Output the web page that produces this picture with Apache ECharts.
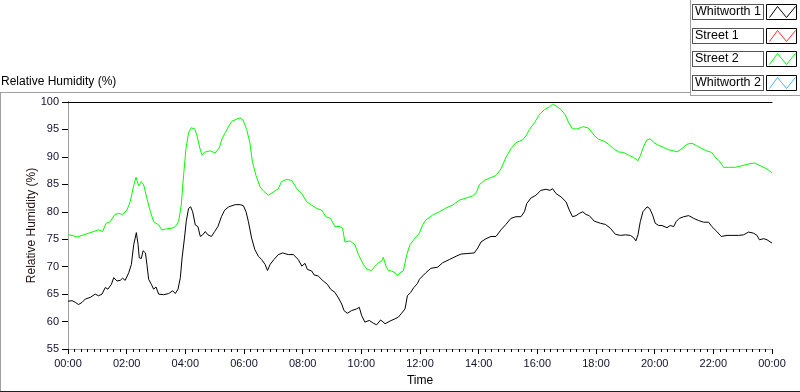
<!DOCTYPE html>
<html>
<head>
<meta charset="utf-8">
<script src="https://cdn.jsdelivr.net/npm/echarts@6/dist/echarts.min.js"></script>
<style>
  html, body { margin: 0; padding: 0; background: #fff; }
  #chart { width: 800px; height: 392px; }
</style>
</head>
<body>
<div id="chart"></div>
<script>
// series names as shown in the legend
var seriesNames = ['Whitworth 1', 'Street 1', 'Street 2', 'Whitworth 2'];
var seriesColors = ['#000000', '#ff3030', '#00ff00', '#40b8ff'];

// y axis range
var yMin = 55, yMax = 100, yStep = 5;
// x axis in hours of the day
var xMin = 0, xMax = 24, xStep = 2;

// [hour, RH %]
var whitworth1 = [
  [0.00,63.7],[0.14,63.8],[0.25,63.5],[0.36,63.1],[0.48,63.5],[0.59,64.1],[0.76,64.4],[0.93,65.0],[1.04,64.7],[1.16,65.0],
  [1.27,66.2],[1.36,65.9],[1.48,66.8],[1.56,68.0],[1.67,67.4],[1.78,67.5],[1.86,67.9],[1.95,67.5],[2.07,68.9],[2.16,70.4],
  [2.24,74.0],[2.33,76.2],[2.39,74.0],[2.43,71.6],[2.50,71.5],[2.56,72.9],[2.64,72.5],[2.69,70.4],[2.75,67.7],[2.84,66.8],
  [2.92,65.9],[3.00,66.3],[3.09,65.0],[3.26,64.9],[3.43,65.1],[3.57,65.6],[3.66,65.1],[3.75,65.9],[3.83,68.0],[3.89,71.6],
  [3.97,75.2],[4.03,78.2],[4.11,80.6],[4.18,80.9],[4.25,80.0],[4.34,77.6],[4.43,77.3],[4.51,75.5],[4.59,75.8],[4.68,76.4],
  [4.77,75.8],[4.89,75.5],[5.00,76.4],[5.11,77.3],[5.23,79.1],[5.34,80.3],[5.48,80.9],[5.59,81.1],[5.70,81.3],[5.87,81.3],
  [5.98,81.1],[6.07,80.0],[6.15,78.2],[6.26,75.2],[6.37,73.1],[6.49,71.9],[6.60,71.3],[6.72,70.4],[6.80,69.3],[6.89,70.4],
  [7.02,71.3],[7.17,72.2],[7.32,72.5],[7.51,72.2],[7.68,72.2],[7.85,71.3],[7.97,70.1],[8.08,70.6],[8.16,69.5],[8.31,69.2],
  [8.39,68.5],[8.53,68.3],[8.70,67.4],[8.84,66.8],[8.95,65.9],[9.10,65.3],[9.22,64.3],[9.33,63.2],[9.41,62.0],[9.52,61.5],
  [9.67,62.0],[9.84,62.3],[9.93,62.6],[10.01,61.1],[10.12,59.9],[10.27,60.2],[10.41,59.7],[10.52,59.4],[10.66,60.3],[10.81,59.6],
  [10.98,60.1],[11.15,60.5],[11.26,60.8],[11.37,61.5],[11.49,62.3],[11.57,64.7],[11.68,65.3],[11.79,66.2],[11.91,66.9],[11.98,67.7],
  [12.09,68.3],[12.20,68.9],[12.37,69.7],[12.60,69.9],[12.77,70.7],[13.00,71.3],[13.23,71.9],[13.40,72.3],[13.63,72.4],[13.85,72.5],
  [13.97,73.4],[14.08,74.5],[14.25,75.1],[14.42,75.5],[14.59,75.5],[14.76,76.7],[14.93,77.7],[15.10,78.8],[15.27,79.1],[15.44,79.1],
  [15.56,80.0],[15.64,81.5],[15.78,82.5],[15.95,83.0],[16.12,83.9],[16.30,84.1],[16.43,83.9],[16.52,84.2],[16.64,83.3],[16.81,82.7],
  [16.98,81.8],[17.09,80.3],[17.20,79.1],[17.32,79.3],[17.43,79.7],[17.55,80.0],[17.66,79.5],[17.77,79.3],[17.94,78.3],[18.15,77.9],
  [18.32,77.7],[18.49,77.0],[18.66,75.9],[18.83,75.7],[19.00,75.8],[19.17,75.7],[19.28,75.3],[19.36,74.7],[19.43,75.8],[19.51,78.2],
  [19.60,80.0],[19.74,80.9],[19.83,80.6],[19.93,79.4],[20.02,77.9],[20.14,77.5],[20.25,77.5],[20.42,77.1],[20.53,77.5],[20.65,77.3],
  [20.73,78.2],[20.84,78.8],[20.99,79.1],[21.16,79.3],[21.33,78.8],[21.50,78.4],[21.67,78.1],[21.84,78.1],[21.95,77.3],[22.12,76.4],
  [22.27,75.5],[22.47,75.7],[22.64,75.7],[22.86,75.7],[23.03,75.8],[23.20,76.3],[23.37,76.1],[23.49,75.7],[23.57,74.9],[23.72,75.1],
  [23.83,74.9],[24.00,74.3]
];
var street1 = [];
var street2 = [
  [0.00,75.8],[0.14,75.7],[0.31,75.4],[0.59,75.9],[0.82,76.3],[1.04,76.7],[1.18,76.4],[1.30,77.9],[1.44,78.2],[1.59,79.5],
  [1.73,79.7],[1.86,79.5],[2.01,80.3],[2.12,81.8],[2.24,84.8],[2.32,86.3],[2.41,84.7],[2.50,85.5],[2.58,84.9],[2.69,82.4],
  [2.81,80.0],[2.92,78.2],[3.09,77.6],[3.20,76.7],[3.37,76.9],[3.54,77.0],[3.66,77.3],[3.77,78.2],[3.86,81.2],[3.94,86.6],
  [4.02,91.4],[4.11,94.4],[4.20,95.3],[4.32,95.1],[4.40,93.8],[4.49,91.7],[4.57,90.3],[4.68,90.9],[4.85,91.1],[5.02,90.7],
  [5.16,91.7],[5.25,93.3],[5.36,94.4],[5.48,95.6],[5.59,96.5],[5.76,96.9],[5.87,97.1],[5.96,96.8],[6.09,95.0],[6.20,92.6],
  [6.29,89.0],[6.41,86.6],[6.55,84.5],[6.68,83.7],[6.83,83.0],[7.00,83.6],[7.17,84.2],[7.28,85.5],[7.45,85.9],[7.63,85.7],
  [7.80,84.2],[7.97,83.3],[8.14,81.8],[8.31,81.2],[8.48,80.6],[8.65,80.3],[8.79,79.1],[8.95,78.8],[9.10,77.3],[9.27,77.3],
  [9.36,77.0],[9.44,74.5],[9.61,74.7],[9.78,74.0],[9.90,72.2],[10.07,70.4],[10.20,69.5],[10.35,69.3],[10.47,70.1],[10.58,70.7],
  [10.69,71.0],[10.75,71.7],[10.84,70.1],[10.92,69.3],[11.03,69.2],[11.15,68.9],[11.23,68.3],[11.32,68.9],[11.43,69.2],[11.55,72.2],
  [11.66,74.0],[11.83,75.2],[11.98,76.1],[12.09,77.6],[12.20,78.5],[12.43,79.4],[12.66,80.0],[12.89,80.7],[13.11,81.2],[13.34,82.1],
  [13.57,82.5],[13.80,82.9],[13.93,83.6],[14.02,84.9],[14.19,85.7],[14.36,86.1],[14.59,86.6],[14.76,87.8],[14.93,89.9],[15.10,91.5],
  [15.27,92.6],[15.50,93.1],[15.61,93.8],[15.73,95.0],[15.90,96.2],[16.07,97.7],[16.24,98.6],[16.41,99.1],[16.52,99.6],[16.64,99.3],
  [16.81,98.6],[16.95,97.7],[17.07,96.2],[17.20,95.1],[17.37,95.1],[17.55,95.5],[17.72,95.3],[17.83,94.7],[17.94,93.9],[18.09,93.2],
  [18.26,92.9],[18.43,92.3],[18.60,91.5],[18.77,90.9],[18.94,90.8],[19.11,90.3],[19.28,89.9],[19.43,89.3],[19.51,90.2],[19.63,92.0],
  [19.74,93.1],[19.85,93.3],[19.97,92.6],[20.14,92.1],[20.31,91.7],[20.48,91.3],[20.65,91.1],[20.76,90.9],[20.93,91.5],[21.10,92.3],
  [21.27,92.5],[21.44,92.0],[21.61,91.5],[21.78,91.1],[21.95,90.8],[22.07,89.9],[22.20,89.3],[22.35,88.1],[22.52,88.1],[22.75,88.1],
  [22.98,88.4],[23.20,88.7],[23.41,88.9],[23.55,88.5],[23.72,88.1],[23.83,87.8],[24.00,87.1]
];
var whitworth2 = [];

var seriesData = [whitworth1, street1, street2, whitworth2];

var FONT = '"Liberation Sans", Arial, sans-serif';

function hourLabel(v) {
  var h = Math.round(v) % 24;
  return (h < 10 ? '0' + h : '' + h) + ':00';
}

// legend: one row per series, a boxed name then a boxed zigzag icon
var legendTop = 4, legendRow = 23.7;
function rowTop(i) {
  return Math.round(legendTop + i * legendRow);
}

var legends = [];
seriesNames.forEach(function (n, i) {
  // name in a box
  legends.push({
    orient: 'vertical',
    left: 688,
    top: rowTop(i),
    padding: 0,
    itemWidth: 0,
    itemHeight: 0,
    selectedMode: false,
    icon: 'rect',
    data: [n],
    textStyle: {
      fontSize: 12.5,
      color: '#000',
      fontFamily: FONT,
      width: 66,
      height: 12,
      lineHeight: 12,
      overflow: 'none',
      padding: [1, 2, 1, 2],
      borderColor: '#555',
      borderWidth: 1,
      backgroundColor: '#fff'
    }
  });
  // zigzag line icon
  legends.push({
    orient: 'vertical',
    left: 769,
    top: rowTop(i) + 2,
    padding: 0,
    itemWidth: 26,
    itemHeight: 11,
    selectedMode: false,
    symbolKeepAspect: false,
    formatter: function () { return ''; },
    data: [{
      name: n,
      icon: 'path://M0,11L8,0L17,11L26,0',
      itemStyle: { color: 'transparent', borderColor: seriesColors[i], borderWidth: 1 }
    }],
    textStyle: { fontSize: 10, lineHeight: 10 }
  });
});

var iconBoxes = seriesNames.map(function (n, i) {
  return {
    type: 'rect',
    shape: { x: 766.5, y: rowTop(i) + 0.5, width: 30, height: 15 },
    style: { fill: 'none', stroke: '#000', lineWidth: 1 },
    z: 1
  };
});

var chart = echarts.init(document.getElementById('chart'), null, { renderer: 'canvas' });

var option = {
  animation: false,
  backgroundColor: '#fff',
  textStyle: { fontFamily: FONT },
  title: {
    text: 'Relative Humidity (%)',
    left: 1,
    top: 76,
    padding: 0,
    textStyle: { fontSize: 12, fontWeight: 'normal', color: '#000', fontFamily: FONT }
  },
  legend: legends,
  grid: { left: 68, top: 102, width: 704, height: 250, containLabel: false },
  xAxis: [{
    type: 'value',
    min: xMin, max: xMax, interval: xStep,
    name: 'Time',
    nameLocation: 'middle',
    nameGap: 26,
    nameMoveOverlap: false,
    nameTextStyle: { fontSize: 12, color: '#000' },
    axisLine: { show: true, lineStyle: { color: '#a0a0a0', width: 1 } },
    axisTick: { show: true, length: 5, lineStyle: { color: '#000' } },
    minorTick: { show: true, splitNumber: 9, length: 3, lineStyle: { color: '#000' } },
    axisLabel: { fontSize: 11, color: '#101030', margin: 9, formatter: hourLabel },
    splitLine: { show: false }
  }, {
    type: 'value',
    position: 'top',
    min: xMin, max: xMax,
    axisLine: { show: true, lineStyle: { color: '#000', width: 1 } },
    axisTick: { show: false },
    axisLabel: { show: false },
    splitLine: { show: false }
  }],
  yAxis: [{
    type: 'value',
    min: yMin, max: yMax, interval: yStep,
    name: 'Relative Humidity (%)',
    nameLocation: 'middle',
    nameGap: 30,
    nameMoveOverlap: false,
    nameTextStyle: { fontSize: 12, color: '#201010' },
    axisLine: { show: true, lineStyle: { color: '#000', width: 1 } },
    axisTick: { show: true, length: 6, lineStyle: { color: '#000' } },
    axisLabel: { fontSize: 11, color: '#101030', margin: 9 },
    splitLine: { show: false }
  }, {
    type: 'value',
    position: 'right',
    min: yMin, max: yMax,
    axisLine: { show: true, lineStyle: { color: '#a0a0a0', width: 1 } },
    axisTick: { show: false },
    axisLabel: { show: false },
    splitLine: { show: false }
  }],
  graphic: [
    // outer panel frame
    { type: 'line', shape: { x1: 0, y1: 92.5, x2: 690, y2: 92.5 }, style: { stroke: '#a0a0a0', lineWidth: 1 } },
    { type: 'line', shape: { x1: 0.5, y1: 92, x2: 0.5, y2: 392 }, style: { stroke: '#a0a0a0', lineWidth: 1 } },
    { type: 'line', shape: { x1: 690.5, y1: 0, x2: 690.5, y2: 95 }, style: { stroke: '#a0a0a0', lineWidth: 1 } },
    { type: 'line', shape: { x1: 690, y1: 95.5, x2: 800, y2: 95.5 }, style: { stroke: '#a0a0a0', lineWidth: 1 } },
    { type: 'line', shape: { x1: 0, y1: 391.5, x2: 800, y2: 391.5 }, style: { stroke: '#202020', lineWidth: 1 } }
  ].concat(iconBoxes),
  series: seriesNames.map(function (n, i) {
    return {
      name: n,
      type: 'line',
      xAxisIndex: 0,
      yAxisIndex: 0,
      data: seriesData[i],
      showSymbol: false,
      symbol: 'none',
      lineStyle: { color: seriesColors[i], width: 1 },
      itemStyle: { color: seriesColors[i] },
      z: 3
    };
  })
};

chart.setOption(option);
</script>
</body>
</html>
